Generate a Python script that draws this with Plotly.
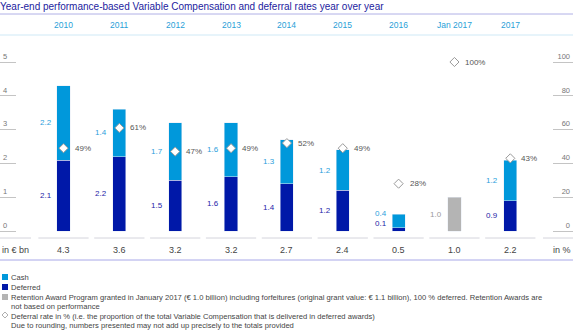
import plotly.graph_objects as go

W, H = 573, 334

categories = ["2010", "2011", "2012", "2013", "2014", "2015", "2016", "Jan 2017", "2017"]
cash = [2.2, 1.4, 1.7, 1.6, 1.3, 1.2, 0.4, None, 1.2]
deferred = [2.1, 2.2, 1.5, 1.6, 1.4, 1.2, 0.1, None, 0.9]
retention = [None, None, None, None, None, None, None, 1.0, None]
deferral_rate = [49, 61, 47, 49, 52, 49, 28, 100, 43]
totals = ["4.3", "3.6", "3.2", "3.2", "2.7", "2.4", "0.5", "1.0", "2.2"]
left_ticks = [0, 1, 2, 3, 4, 5]
right_ticks = [0, 20, 40, 60, 80, 100]

C_CASH = "#0098db"
C_DEF = "#0018a8"
C_RET = "#b4b4b4"
FONT = "Liberation Sans, Arial, sans-serif"

def py(px):
    return 1 - px / H

def pxx(px):
    return px / W

fig = go.Figure()
fig.add_bar(x=categories, y=deferred, marker_color=C_DEF, width=0.235, name="Deferred")
fig.add_bar(x=categories, y=cash, marker_color=C_CASH, width=0.235, name="Cash")
fig.add_bar(x=categories, y=retention, marker_color=C_RET, width=0.235, name="Retention")
fig.add_scatter(
    x=categories, y=deferral_rate, yaxis="y2", mode="markers",
    marker=dict(symbol="diamond", size=7, color="white", line=dict(color="#9a9a9a", width=1)),
    name="Deferral rate", cliponaxis=False,
)

ann = []
for i, c in enumerate(categories):
    d, ca, r = deferred[i], cash[i], retention[i]
    if d is not None:
        small = (d + (ca or 0)) < 1
        ann.append(dict(x=i, y=d / 2, xref="x", yref="y", text=f"{d:.1f}", showarrow=False,
                        xanchor="right", yanchor="middle", xshift=-10, yshift=6 if small else 0,
                        font=dict(size=8, color="#2424a8", family=FONT)))
    if ca is not None:
        small = (d + ca) < 1
        ann.append(dict(x=i, y=d + ca / 2, xref="x", yref="y", text=f"{ca:.1f}", showarrow=False,
                        xanchor="right", yanchor="middle", xshift=-10, yshift=7 if small else 0,
                        font=dict(size=8, color="#2aa0dc", family=FONT)))
    if r is not None:
        ann.append(dict(x=i, y=r / 2, xref="x", yref="y", text=f"{r:.1f}", showarrow=False,
                        xanchor="right", yanchor="middle", xshift=-10,
                        font=dict(size=8, color="#9a9a9a", family=FONT)))
    # deferral rate label
    ann.append(dict(x=i, y=deferral_rate[i], xref="x", yref="y2", text=f"{deferral_rate[i]}%",
                    showarrow=False, xanchor="left", yanchor="middle", xshift=9,
                    font=dict(size=8, color="#555555", family=FONT)))
    # year row
    ann.append(dict(x=i, y=py(25), xref="x", yref="paper", text=c, showarrow=False,
                    yanchor="middle", font=dict(size=8.5, color="#2a9fd8", family=FONT)))
    # totals row
    ann.append(dict(x=i, y=py(250), xref="x", yref="paper", text=totals[i], showarrow=False,
                    yanchor="middle", font=dict(size=9, color="#444444", family=FONT)))

ann.append(dict(x=0, y=py(250), xref="paper", yref="paper", text="in € bn", showarrow=False,
                xanchor="left", yanchor="middle", font=dict(size=9, color="#444444", family=FONT)))
ann.append(dict(x=1, y=py(250), xref="paper", yref="paper", text="in %", showarrow=False,
                xanchor="right", yanchor="middle", font=dict(size=9, color="#444444", family=FONT)))
ann.append(dict(x=0, y=py(6), xref="paper", yref="paper",
                text="Year-end performance-based Variable Compensation and deferral rates year over year",
                showarrow=False, xanchor="left", yanchor="middle", xshift=-2,
                font=dict(size=10, color="#1c1c9e", family=FONT)))

legend_items = [
    (277, "Cash", "sq", C_CASH),
    (287, "Deferred", "sq", C_DEF),
    (297, "Retention Award Program granted in January 2017 (€ 1.0 billion) including forfeitures (original grant value: € 1.1 billion), 100 % deferred. Retention Awards are", "sq", C_RET),
    (306, "not based on performance", None, None),
    (316, "Deferral rate in % (i.e. the proportion of the total Variable Compensation that is delivered in deferred awards)", "dia", None),
    (325, "Due to rounding, numbers presented may not add up precisely to the totals provided", None, None),
]
shapes = []
for ypx, txt, kind, col in legend_items:
    ann.append(dict(x=pxx(11), y=py(ypx), xref="paper", yref="paper", text=txt, showarrow=False,
                    xanchor="left", yanchor="middle", xshift=-2,
                    font=dict(size=7.6, color="#444444", family=FONT)))
    if kind == "sq":
        shapes.append(dict(type="rect", xref="paper", yref="paper", x0=pxx(2), x1=pxx(8),
                           y0=py(ypx + 3), y1=py(ypx - 3), fillcolor=col, line=dict(width=0)))
    elif kind == "dia":
        cx, cy = 5, ypx - 1
        path = (f"M {pxx(cx)} {py(cy-3)} L {pxx(cx+3)} {py(cy)} L {pxx(cx)} {py(cy+3)} "
                f"L {pxx(cx-3)} {py(cy)} Z")
        shapes.append(dict(type="path", xref="paper", yref="paper", path=path,
                           fillcolor="white", line=dict(color="#9a9a9a", width=0.8)))

# horizontal rules
shapes.append(dict(type="line", xref="paper", yref="paper", x0=0, x1=1, y0=py(14), y1=py(14),
                   line=dict(color="#b0b0e6", width=1)))
shapes.append(dict(type="line", xref="paper", yref="paper", x0=0, x1=1, y0=py(35), y1=py(35),
                   line=dict(color="#cfe9f6", width=1)))
shapes.append(dict(type="line", xref="paper", yref="paper", x0=0, x1=1, y0=py(260), y1=py(260),
                   line=dict(color="#a8a8e8", width=1)))
# segmented line above totals row
for i in range(len(categories)):
    shapes.append(dict(type="line", xref="x", yref="paper", x0=i - 0.45, x1=i + 0.45,
                       y0=py(238), y1=py(238), line=dict(color="#d4d4dc", width=1)))
for a, b in [(0, 31), (543, 573)]:
    shapes.append(dict(type="line", xref="paper", yref="paper", x0=pxx(a), x1=pxx(b),
                       y0=py(238), y1=py(238), line=dict(color="#d4d4dc", width=1)))

# axes ranges: zero at pixel 231, 33.8 px per unit
zero_px, unit = 231, 33.8
y_lo = (zero_px - H) / unit
y_hi = zero_px / unit
x_lo = -63.5 / 55.85
x_hi = (W - 63.5) / 55.85

fig.update_layout(
    width=W, height=H, margin=dict(l=0, r=0, t=0, b=0),
    paper_bgcolor="white", plot_bgcolor="rgba(0,0,0,0)",
    barmode="stack", showlegend=False,
    font=dict(family=FONT),
    xaxis=dict(type="category", categoryorder="array", categoryarray=categories,
               range=[x_lo, x_hi], domain=[0, 1], showticklabels=False, showgrid=False,
               zeroline=False, showline=False, ticks=""),
    yaxis=dict(range=[y_lo, y_hi], domain=[0, 1], tickvals=left_ticks, showgrid=False,
               zeroline=False, showline=False, ticks="inside", ticklen=16, tickcolor="#c4c4c4",
               ticklabelposition="inside top", tickfont=dict(size=7.5, color="#777777")),
    yaxis2=dict(range=[y_lo * 20, y_hi * 20], overlaying="y", side="right", tickvals=right_ticks,
                showgrid=False, zeroline=False, showline=False, ticks="inside", ticklen=20,
                tickcolor="#c4c4c4", ticklabelposition="inside top",
                tickfont=dict(size=7.5, color="#777777")),
    annotations=ann, shapes=shapes,
)

fig.write_html("out.html")
